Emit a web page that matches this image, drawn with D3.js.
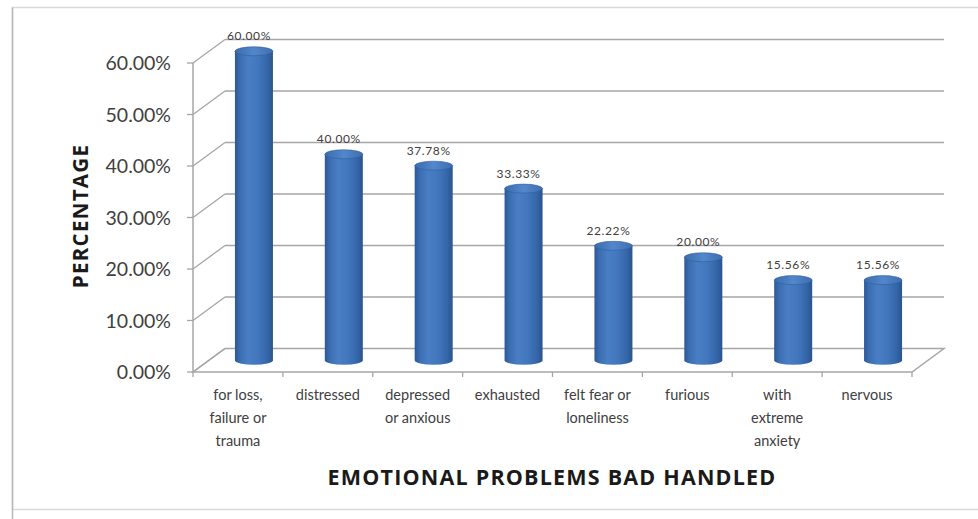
<!DOCTYPE html>
<html><head><meta charset="utf-8">
<script src="https://cdn.jsdelivr.net/npm/d3@7"></script>
<style>body{margin:0;background:#fff}svg{display:block}</style>
</head><body>
<svg id="c" width="978" height="519"></svg>
<script>
const categories = ["for loss,|failure or|trauma","distressed","depressed|or anxious","exhausted","felt fear or|loneliness","furious","with|extreme|anxiety","nervous"];
const values = [60.00, 40.00, 37.78, 33.33, 22.22, 20.00, 15.56, 15.56];
const valueLabels = ["60.00%","40.00%","37.78%","33.33%","22.22%","20.00%","15.56%","15.56%"];
const yTicks = [0,10,20,30,40,50,60];
const yTitle = "PERCENTAGE";
const xTitle = "EMOTIONAL PROBLEMS BAD HANDLED";

const svg = d3.select("#c");
const font = "Lato, 'Open Sans', sans-serif";
const tfont = "'Open Sans', Lato, sans-serif";
const DX = 32, DY = -23.5;
const x = d3.scaleBand().domain(categories).range([193, 912]).padding(0);
const y = d3.scaleLinear().domain([0, 60]).range([372, 63]);
const grid = "#a6a6a6";

// outer border
svg.append("rect").attr("x",12.5).attr("y",7.5).attr("width",1000).attr("height",502)
  .attr("fill","none").attr("stroke","#d9d9d9").attr("stroke-width",1.5);
svg.append("line").attr("x1",12.5).attr("x2",12.5).attr("y1",7.5).attr("y2",519).attr("stroke","#b8b8b8").attr("stroke-width",1.5);

const g = svg.append("g");
// back wall gridlines
g.selectAll(".bg").data(yTicks.filter(t=>t>0)).join("line")
  .attr("x1", 193+DX).attr("x2", 912+DX)
  .attr("y1", d=>y(d)+DY).attr("y2", d=>y(d)+DY)
  .attr("stroke", grid).attr("stroke-width",1.6);
// left wall diagonals
g.selectAll(".lw").data(yTicks).join("line")
  .attr("x1",193).attr("y1",d=>y(d)).attr("x2",193+DX).attr("y2",d=>y(d)+DY)
  .attr("stroke", grid).attr("stroke-width",1.3);
// floor
const fl = [[193,y(0)],[912,y(0)],[912+DX,y(0)+DY],[193+DX,y(0)+DY]];
g.append("path").attr("d","M"+fl.map(p=>p.join(",")).join("L")+"Z")
  .attr("fill","none").attr("stroke",grid).attr("stroke-width",1.5);
// left axis
g.append("line").attr("x1",193).attr("x2",193).attr("y1",y(60)).attr("y2",y(0)).attr("stroke",grid).attr("stroke-width",1.5);
g.selectAll(".yt").data(yTicks).join("line")
  .attr("x1",187).attr("x2",193).attr("y1",d=>y(d)).attr("y2",d=>y(d)).attr("stroke",grid).attr("stroke-width",1.3);
// x ticks
const edges = categories.map(c=>x(c)).concat([912]);
g.selectAll(".xt").data(edges).join("line")
  .attr("x1",d=>d).attr("x2",d=>d).attr("y1",y(0)).attr("y2",y(0)+5).attr("stroke",grid).attr("stroke-width",1.3);

// y tick labels
g.selectAll(".yl").data(yTicks).join("text")
  .attr("x",171).attr("y",d=>y(d)).attr("dy","0.36em").attr("text-anchor","end")
  .attr("font-family",font).attr("font-size",19.5).attr("fill","#404040")
  .text(d=>d.toFixed(2)+"%");

// gradients
const defs = svg.append("defs");
const gb = defs.append("linearGradient").attr("id","body").attr("x1","0").attr("x2","1").attr("y1","0").attr("y2","0");
[[0,"#2c5894"],[0.12,"#3a6cb0"],[0.35,"#4a7ec4"],[0.6,"#4377bd"],[0.85,"#3466a9"],[1,"#2a548f"]].forEach(s=>gb.append("stop").attr("offset",s[0]).attr("stop-color",s[1]));
const gt = defs.append("linearGradient").attr("id","top").attr("x1","0").attr("x2","1").attr("y1","0").attr("y2","0");
[[0,"#3a6cae"],[0.5,"#5387cb"],[1,"#3d6eb0"]].forEach(s=>gt.append("stop").attr("offset",s[0]).attr("stop-color",s[1]));

const bw = 38, ry = 4.5;
const data = categories.map((c,i)=>({c, v:values[i], lab:valueLabels[i]}));
const bars = g.selectAll(".bar").data(data).join("g");
bars.append("path").attr("d", d=>{
  const cx = x(d.c)+x.bandwidth()/2+DX/2;
  const top = y(d.v)+DY/2, bot = y(0)+DY/2;
  const l = cx-bw/2, r = cx+bw/2;
  return `M${l},${top}L${l},${bot}A${bw/2},${ry} 0 0 0 ${r},${bot}L${r},${top}Z`;
}).attr("fill","url(#body)");
bars.append("ellipse")
  .attr("cx", d=>x(d.c)+x.bandwidth()/2+DX/2).attr("cy", d=>y(d.v)+DY/2)
  .attr("rx", bw/2).attr("ry", ry).attr("fill","url(#top)").attr("stroke","#2f5e9e").attr("stroke-width",0.6);
bars.append("text")
  .attr("x", d=>x(d.c)+x.bandwidth()/2+DX/2-5).attr("y", d=>y(d.v)+DY/2-11)
  .attr("text-anchor","middle").attr("font-family",font).attr("font-size",12)
  .attr("letter-spacing","0.6px").attr("fill","#404040").text(d=>d.lab);

// category labels
const cl = g.selectAll(".cl").data(categories).join("text")
  .attr("text-anchor","middle").attr("font-family",font).attr("font-size",14.5).attr("fill","#404040");
cl.each(function(d){
  const t = d3.select(this);
  d.split("|").forEach((s,i)=>{
    t.append("tspan").attr("x", x(d)+x.bandwidth()/2).attr("y", 400+i*23).text(s);
  });
});

// titles
svg.append("text").attr("x",552).attr("y",485).attr("text-anchor","middle")
  .attr("font-family",tfont).attr("font-weight","bold").attr("font-size",21.5)
  .attr("letter-spacing","1.2px").attr("fill","#1a1a1a").text(xTitle);
svg.append("text").attr("transform","translate(88,216) rotate(-90)").attr("text-anchor","middle")
  .attr("font-family",tfont).attr("font-weight","bold").attr("font-size",20.5)
  .attr("letter-spacing","1.3px").attr("fill","#1a1a1a").text(yTitle);
</script>
</body></html>
